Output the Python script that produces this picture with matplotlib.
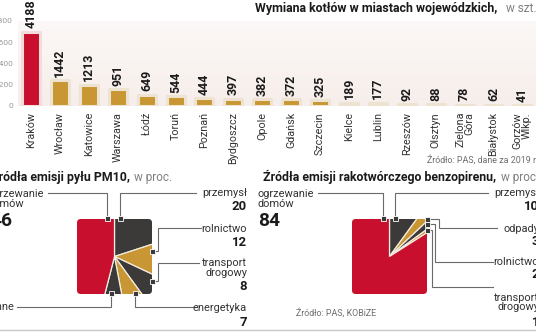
import matplotlib

matplotlib.use("Agg", force=True)
import matplotlib.pyplot as plt
import numpy as np
from matplotlib import font_manager
from matplotlib.colors import LinearSegmentedColormap
from matplotlib.patches import FancyBboxPatch

# --- data -------------------------------------------------------------------
cities = ["Kraków", "Wrocław", "Katowice", "Warszawa", "Łódź", "Toruń", "Poznań",
          "Bydgoszcz", "Opole", "Gdańsk", "Szczecin", "Kielce", "Lublin", "Rzeszów",
          "Olsztyn", "Zielona\nGóra", "Białystok", "Gorzów\nWlkp."]
boilers = [4188, 1442, 1213, 951, 649, 544, 444, 397, 382, 372, 325, 189, 177,
           92, 88, 78, 62, 41]
y_ticks = [0, 1200, 2400, 3600, 4800]

pm10_labels = ["przemysł", "rolnictwo", "transport\ndrogowy", "energetyka", "inne",
               "ogrzewanie\ndomów"]
pm10_values = [20, 12, 8, 7, 7, 46]
bap_labels = ["przemysł", "odpady", "rolnictwo", "transport\ndrogowy",
              "ogrzewanie\ndomów"]
bap_values = [10, 3, 2, 1, 84]

RED = "#c8102e"
GOLD = "#c89734"
DARK = "#3b3a39"
TXT = "#333333"
GREY = "#808080"

names = {f.name for f in font_manager.fontManager.ttflist}
if "Liberation Sans Narrow" in names:
    FAM, K = ["Liberation Sans Narrow", "DejaVu Sans"], 1.0
elif "Roboto" in names:
    FAM, K = ["Roboto", "DejaVu Sans"], 0.86
else:
    FAM, K = ["DejaVu Sans"], 0.76
plt.rcParams["font.family"] = FAM

W, H = 536, 332
fig = plt.figure(figsize=(W / 100, H / 100), dpi=100)


def box(x0, y0, x1, y1):
    return [x0 / W, 1 - y1 / H, (x1 - x0) / W, (y1 - y0) / H]


# --- bar chart --------------------------------------------------------------
ax = fig.add_axes(box(18, 21, 536, 106))
x = np.arange(len(cities))
xlim = (-0.45, 17.47)
bg = LinearSegmentedColormap.from_list("bg", ["#fcf8f7", "#f6eeea"])
ax.imshow(np.linspace(0, 1, 64).reshape(-1, 1), cmap=bg, aspect="auto",
          extent=(xlim[0], xlim[1], 0, 4800), zorder=0)
colors = [RED] + [GOLD] * (len(cities) - 1)
edges = ["#f2dcdc"] + ["#eee3d0"] * (len(cities) - 1)
ax.bar(x, boilers, width=0.62, color=colors, edgecolor=edges, linewidth=2.2,
       joinstyle="round", zorder=2)
for i, v in enumerate(boilers):
    ax.annotate(str(v), (i, v), xytext=(0, 2.5), textcoords="offset points",
                rotation=90, ha="center", va="bottom", fontsize=10.4 * K,
                fontweight="bold", color="#1a1a1a", annotation_clip=False)
ax.set_xlim(*xlim)
ax.set_ylim(0, 4800)
ax.set_yticks(y_ticks)
ax.set_yticklabels([str(t) for t in y_ticks], fontsize=7 * K, color="#9a9a9a")
ax.set_xticks(x)
ax.set_xticklabels(cities, rotation=90, fontsize=9 * K, color=TXT,
                   va="top", ha="center")
for lab in ax.get_xticklabels():
    lab.set_multialignment("right")
    lab.set_linespacing(0.9)
ax.tick_params(axis="y", length=0, pad=3.6)
ax.tick_params(axis="x", length=0, pad=4.3)
for s in ax.spines.values():
    s.set_visible(False)


# --- square pies ------------------------------------------------------------
def square_pie(rect, values, cols):
    pa = fig.add_axes(rect)
    wedges, _ = pa.pie(values, colors=cols, radius=1.6, startangle=90,
                       counterclock=False,
                       wedgeprops=dict(edgecolor="#f4ece0", linewidth=0.9))
    pa.set_xlim(-1, 1)
    pa.set_ylim(-1, 1)
    clip = FancyBboxPatch((-1, -1), 2, 2, boxstyle="round,pad=0,rounding_size=0.1",
                          transform=pa.transData)
    for w in wedges:
        w.set_clip_on(True)
        w.set_clip_path(clip)
    pa.axis("off")
    return pa


square_pie(box(77, 219, 152, 294), pm10_values, [DARK, GOLD, DARK, GOLD, DARK, RED])
square_pie(box(352, 219, 427, 294), bap_values, [DARK, GOLD, DARK, GOLD, RED])

# --- overlay for titles, labels and leader lines (pixel coordinates) -------
ov = fig.add_axes([0, 0, 1, 1], zorder=5)
ov.set_xlim(0, W)
ov.set_ylim(H, 0)
ov.axis("off")
ov.patch.set_visible(False)

ov.text(497, 8.5, "Wymiana kotłów w miastach wojewódzkich,", ha="right", va="center",
        fontsize=10.4 * K, fontweight="bold", color="#1a1a1a")
ov.text(506, 8.5, "w szt.", ha="left", va="center", fontsize=9.8 * K, color=GREY)
ov.text(538, 160, "Źródło: PAS, dane za 2019 r.", ha="right", va="center",
        fontsize=7.4 * K, color="#6e6e6e")

ov.text(130, 177, "Źródła emisji pyłu PM10,", ha="right", va="center",
        fontsize=10.4 * K, fontweight="bold", color="#1a1a1a")
ov.text(134, 177, "w proc.", ha="left", va="center", fontsize=9.8 * K, color=GREY)
ov.text(496, 177, "Źródła emisji rakotwórczego benzopirenu,", ha="right",
        va="center", fontsize=10.4 * K, fontweight="bold", color="#1a1a1a")
ov.text(501, 177, "w proc.", ha="left", va="center", fontsize=9.8 * K, color=GREY)
ov.text(296, 313, "Źródło: PAS, KOBiZE", ha="left", va="center", fontsize=7.4 * K,
        color="#6e6e6e")
ov.axhline(330, color="#c8c8c8", linewidth=1)


def callout(label, value, tx, ty, vy, ha, path):
    ov.text(tx, ty, label, ha=ha, va="center", fontsize=9.2 * K, color=TXT,
            linespacing=0.95, multialignment=ha)
    ov.text(tx, vy, str(value), ha=ha, va="center", fontsize=11 * K,
            fontweight="bold", color="#1a1a1a")
    xs, ys = zip(*path)
    ov.plot(xs, ys, color="#6a6a6a", linewidth=0.8, solid_joinstyle="miter")
    ov.plot(xs[0], ys[0], marker="s", markersize=3.6, markerfacecolor="#3a3a3a",
            markeredgecolor="white", markeredgewidth=0.6)


# PM10
callout(pm10_labels[0], pm10_values[0], 247, 193.5, 207, "right",
        [(120, 218), (120, 193), (196, 193)])
callout(pm10_labels[1], pm10_values[1], 247, 229, 242, "right",
        [(152, 251), (158, 251), (158, 228), (201, 228)])
callout(pm10_labels[2], pm10_values[2], 247, 268, 287, "right",
        [(152, 281), (158, 281), (158, 263), (199, 263)])
callout(pm10_labels[3], pm10_values[3], 247, 308, 322, "right",
        [(135, 293), (135, 307), (197, 307)])
callout(pm10_labels[4], pm10_values[4], -7, 307, 322, "left",
        [(111, 293), (111, 307), (17, 307)])
ov.text(-13, 199, pm10_labels[5], ha="left", va="center", fontsize=9.2 * K,
        color=TXT, linespacing=0.95)
ov.text(-10, 221, str(pm10_values[5]), ha="left", va="center", fontsize=16 * K,
        fontweight="bold", color="#1a1a1a")
ov.plot([107, 107, 48], [218, 193, 193], color="#6a6a6a", linewidth=0.8)
ov.plot(107, 218, marker="s", markersize=3.6, markerfacecolor="#3a3a3a",
        markeredgecolor="white", markeredgewidth=0.6)

# benzopiren
callout(bap_labels[0], bap_values[0], 539, 193.5, 207, "right",
        [(395, 218), (395, 193), (488, 193)])
callout(bap_labels[1], bap_values[1], 539, 229, 241.5, "right",
        [(427, 219), (439, 219), (439, 228), (497, 228)])
callout(bap_labels[2], bap_values[2], 539, 262, 275, "right",
        [(427, 224), (435, 224), (435, 262), (493, 262)])
callout(bap_labels[3], bap_values[3], 539, 302.5, 322, "right",
        [(427, 230), (432, 230), (432, 287), (493, 287)])
ov.text(258, 199, bap_labels[4], ha="left", va="center", fontsize=9.2 * K,
        color=TXT, linespacing=0.95)
ov.text(258, 221, str(bap_values[4]), ha="left", va="center", fontsize=16 * K,
        fontweight="bold", color="#1a1a1a")
ov.plot([383, 383, 318], [218, 193, 193], color="#6a6a6a", linewidth=0.8)
ov.plot(383, 218, marker="s", markersize=3.6, markerfacecolor="#3a3a3a",
        markeredgecolor="white", markeredgewidth=0.6)

fig.savefig("out.png", dpi=100)
